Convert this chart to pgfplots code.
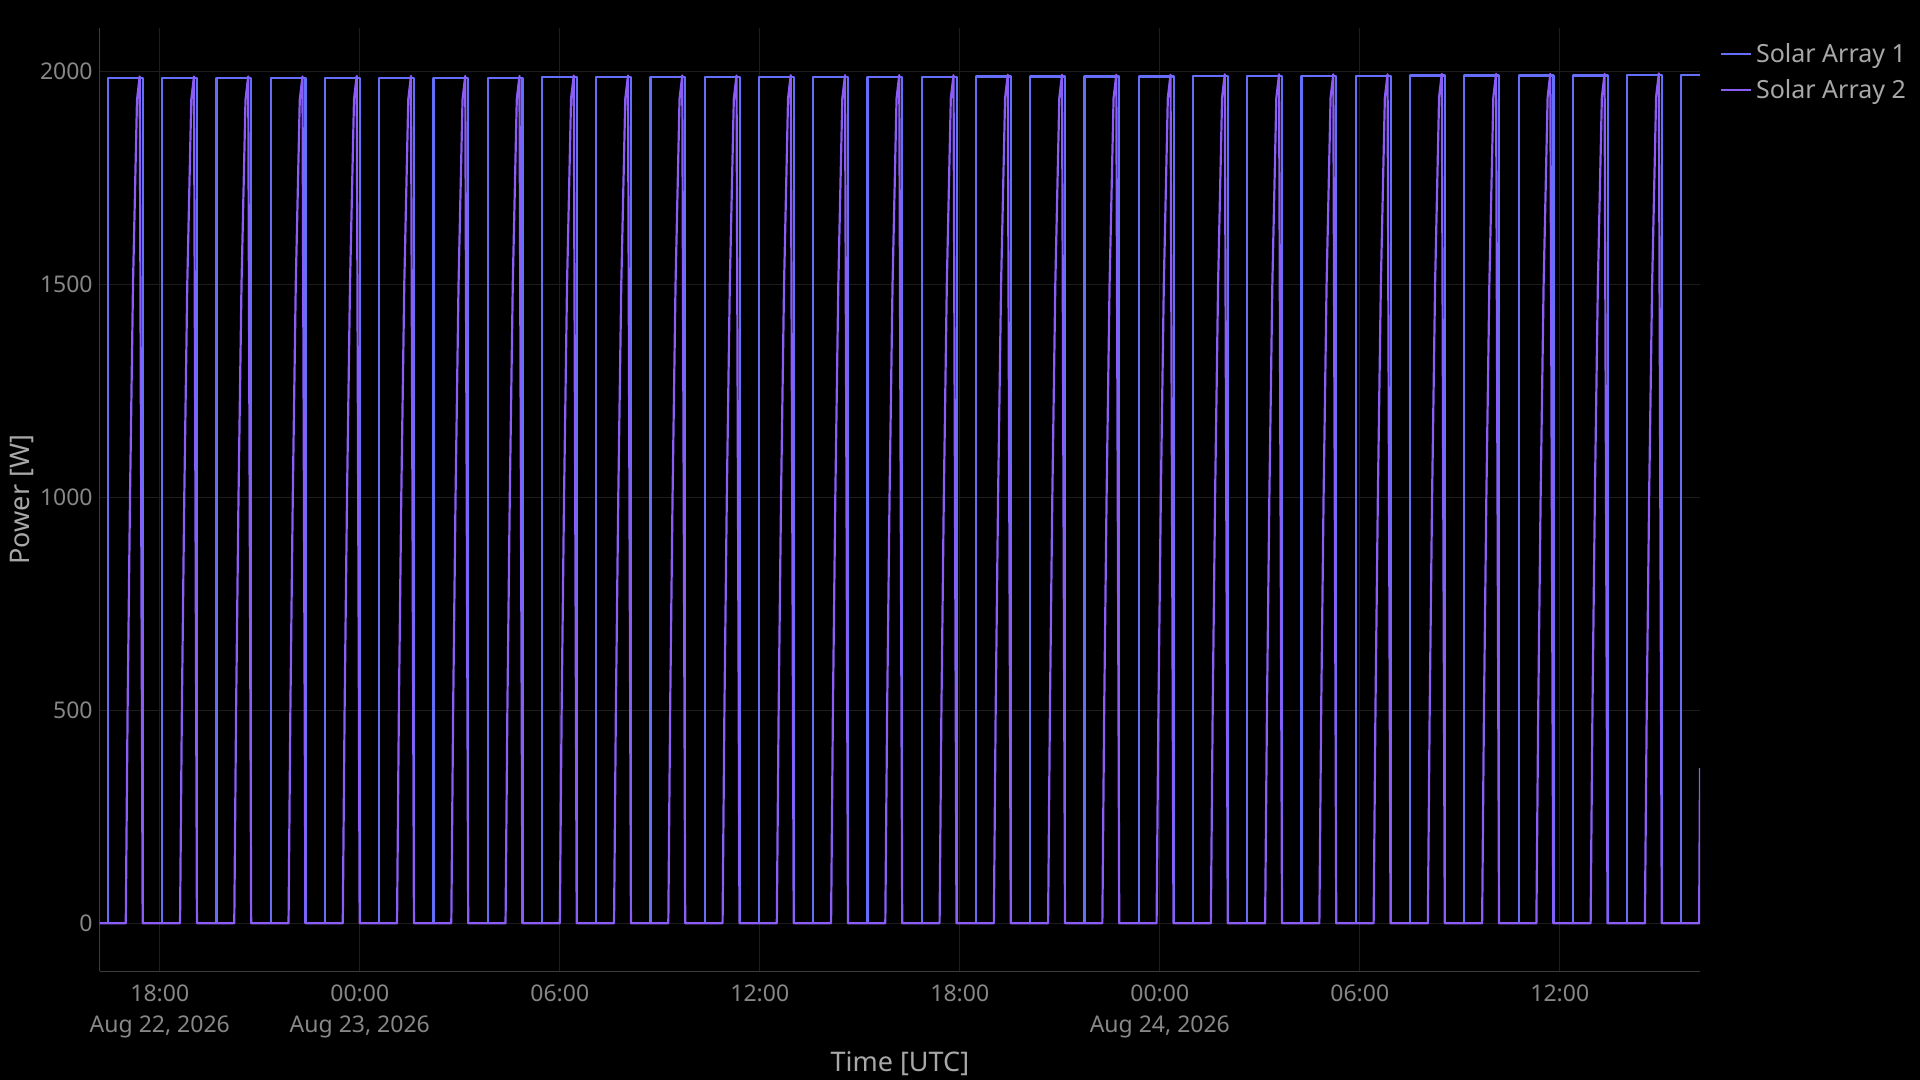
\documentclass[border=0pt]{standalone}
\usepackage{pgfplots}
\pgfplotsset{compat=1.18}
\usepackage{fontspec}
\setmainfont{Noto Sans}

\definecolor{bg}{HTML}{000000}
\definecolor{sa1}{HTML}{636EFA}
\definecolor{sa2}{HTML}{8B5CF6}
\definecolor{gridc}{HTML}{1D1D1D}
\definecolor{axc}{HTML}{3C3C3C}
\definecolor{tickc}{HTML}{878787}
\definecolor{labc}{HTML}{A8A8A8}

\begin{document}
\begin{tikzpicture}
\path[use as bounding box, fill=bg] (0,0) rectangle (960pt,540pt);
\begin{axis}[
  at={(49.85pt,54.35pt)}, anchor=south west,
  scale only axis, width=800.15pt, height=471.5pt,
  xmin=16.197, xmax=64.206, ymin=-112.7, ymax=2101,
  axis lines=left, axis line style={-, draw=axc, line width=0.6pt},
  major tick length=0pt,
  grid=major, major grid style={draw=gridc, line width=0.6pt},
  xtick={18,24,30,36,42,48,54,60},
  xticklabels={{18:00\\Aug 22, 2026},{00:00\\Aug 23, 2026},{06:00},{12:00},{18:00},{00:00\\Aug 24, 2026},{06:00},{12:00}},
  xticklabel style={align=center, font=\fontsize{11.5}{15.5}\selectfont, text=tickc, yshift=-3pt},
  ytick={0,500,1000,1500,2000},
  yticklabels={0,500,1000,1500,2000},
  yticklabel style={font=\fontsize{11.5}{14}\selectfont, text=tickc},
  xlabel={Time [UTC]}, ylabel={Power [W]},
  xlabel style={at={(axis description cs:0.5,-0.098)}, anchor=center, font=\fontsize{13.5}{16}\selectfont, text=labc},
  ylabel style={at={(axis description cs:-0.0487,0.5)}, anchor=center, font=\fontsize{13.5}{16}\selectfont, text=labc},
  legend style={at={(axis description cs:1.0084,0.993)}, anchor=north west, draw=none, fill=none,
    text=labc, font=\fontsize{12.5}{15}\selectfont, row sep=3pt, nodes={inner sep=2pt}},
  legend cell align=left,
  legend image code/.code={\draw[#1] (0pt,0pt) -- (15pt,0pt);},
]
\addplot[sa1, line width=1.1pt, line join=round] coordinates {
(16.197,0)
(16.446,0)(16.446,1984)(17.490,1984)(17.490,0)
(18.074,0)(18.074,1984)(19.118,1984)(19.118,0)
(19.701,0)(19.701,1984)(20.745,1984)(20.745,0)
(21.329,0)(21.329,1984)(22.373,1984)(22.373,0)
(22.956,0)(22.956,1985)(24.000,1985)(24.000,0)
(24.584,0)(24.584,1985)(25.628,1985)(25.628,0)
(26.212,0)(26.212,1985)(27.256,1985)(27.256,0)
(27.839,0)(27.839,1985)(28.883,1985)(28.883,0)
(29.467,0)(29.467,1986)(30.511,1986)(30.511,0)
(31.094,0)(31.094,1986)(32.138,1986)(32.138,0)
(32.722,0)(32.722,1986)(33.766,1986)(33.766,0)
(34.350,0)(34.350,1986)(35.394,1986)(35.394,0)
(35.977,0)(35.977,1987)(37.021,1987)(37.021,0)
(37.605,0)(37.605,1987)(38.649,1987)(38.649,0)
(39.232,0)(39.232,1987)(40.276,1987)(40.276,0)
(40.860,0)(40.860,1987)(41.904,1987)(41.904,0)
(42.488,0)(42.488,1988)(43.532,1988)(43.532,0)
(44.115,0)(44.115,1988)(45.159,1988)(45.159,0)
(45.743,0)(45.743,1988)(46.787,1988)(46.787,0)
(47.370,0)(47.370,1988)(48.414,1988)(48.414,0)
(48.998,0)(48.998,1989)(50.042,1989)(50.042,0)
(50.626,0)(50.626,1989)(51.670,1989)(51.670,0)
(52.253,0)(52.253,1989)(53.297,1989)(53.297,0)
(53.881,0)(53.881,1989)(54.925,1989)(54.925,0)
(55.508,0)(55.508,1990)(56.552,1990)(56.552,0)
(57.136,0)(57.136,1990)(58.180,1990)(58.180,0)
(58.764,0)(58.764,1990)(59.808,1990)(59.808,0)
(60.391,0)(60.391,1990)(61.435,1990)(61.435,0)
(62.019,0)(62.019,1991)(63.063,1991)(63.063,0)
(63.646,0)(63.646,1992)(64.206,1992)
};
\addlegendentry{Solar Array 1}
\addplot[sa2, line width=1.1pt, line join=round] coordinates {
(16.197,0)
(16.979,0)(17.034,500)(17.106,1000)(17.196,1500)(17.316,1933)(17.397,1988)(17.486,0)
(18.607,0)(18.662,500)(18.734,1000)(18.824,1500)(18.944,1933)(19.025,1988)(19.114,0)
(20.234,0)(20.289,500)(20.361,1000)(20.451,1500)(20.571,1933)(20.652,1988)(20.741,0)
(21.862,0)(21.917,500)(21.989,1000)(22.079,1500)(22.199,1933)(22.280,1988)(22.369,0)
(23.489,0)(23.544,500)(23.616,1000)(23.706,1500)(23.826,1934)(23.907,1989)(23.996,0)
(25.117,0)(25.172,500)(25.244,1000)(25.334,1500)(25.454,1934)(25.535,1989)(25.624,0)
(26.745,0)(26.800,500)(26.872,1000)(26.962,1500)(27.082,1934)(27.163,1989)(27.252,0)
(28.372,0)(28.427,500)(28.499,1000)(28.589,1500)(28.709,1934)(28.790,1989)(28.879,0)
(30.000,0)(30.055,500)(30.127,1000)(30.217,1500)(30.337,1935)(30.418,1990)(30.507,0)
(31.627,0)(31.682,500)(31.754,1000)(31.844,1500)(31.964,1935)(32.045,1990)(32.134,0)
(33.255,0)(33.310,500)(33.382,1000)(33.472,1500)(33.592,1935)(33.673,1990)(33.762,0)
(34.883,0)(34.938,500)(35.010,1000)(35.100,1500)(35.220,1935)(35.301,1990)(35.390,0)
(36.510,0)(36.565,500)(36.637,1000)(36.727,1500)(36.847,1936)(36.928,1991)(37.017,0)
(38.138,0)(38.193,500)(38.265,1000)(38.355,1500)(38.475,1936)(38.556,1991)(38.645,0)
(39.765,0)(39.820,500)(39.892,1000)(39.982,1500)(40.102,1936)(40.183,1991)(40.272,0)
(41.393,0)(41.448,500)(41.520,1000)(41.610,1500)(41.730,1936)(41.811,1991)(41.900,0)
(43.021,0)(43.076,500)(43.148,1000)(43.238,1500)(43.358,1937)(43.439,1992)(43.528,0)
(44.648,0)(44.703,500)(44.775,1000)(44.865,1500)(44.985,1937)(45.066,1992)(45.155,0)
(46.276,0)(46.331,500)(46.403,1000)(46.493,1500)(46.613,1937)(46.694,1992)(46.783,0)
(47.903,0)(47.958,500)(48.030,1000)(48.120,1500)(48.240,1937)(48.321,1992)(48.410,0)
(49.531,0)(49.586,500)(49.658,1000)(49.748,1500)(49.868,1938)(49.949,1993)(50.038,0)
(51.159,0)(51.214,500)(51.286,1000)(51.376,1500)(51.496,1938)(51.577,1993)(51.666,0)
(52.786,0)(52.841,500)(52.913,1000)(53.003,1500)(53.123,1938)(53.204,1993)(53.293,0)
(54.414,0)(54.469,500)(54.541,1000)(54.631,1500)(54.751,1938)(54.832,1993)(54.921,0)
(56.041,0)(56.096,500)(56.168,1000)(56.258,1500)(56.378,1939)(56.459,1994)(56.548,0)
(57.669,0)(57.724,500)(57.796,1000)(57.886,1500)(58.006,1939)(58.087,1994)(58.176,0)
(59.297,0)(59.352,500)(59.424,1000)(59.514,1500)(59.634,1939)(59.715,1994)(59.804,0)
(60.924,0)(60.979,500)(61.051,1000)(61.141,1500)(61.261,1939)(61.342,1994)(61.431,0)
(62.552,0)(62.607,500)(62.679,1000)(62.769,1500)(62.889,1940)(62.970,1995)(63.059,0)
(64.179,0)(64.206,364)
};
\addlegendentry{Solar Array 2}
\end{axis}
\end{tikzpicture}
\end{document}
